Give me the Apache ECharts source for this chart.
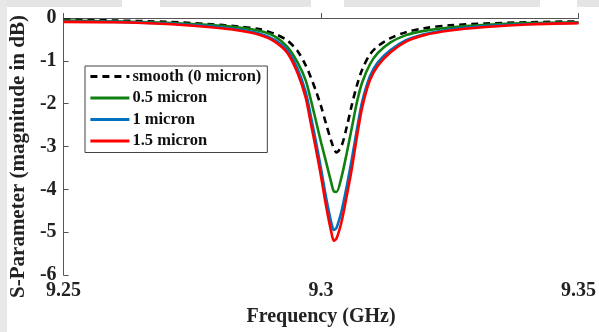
<!DOCTYPE html>
<html>
<head>
<meta charset="utf-8">
<script src="https://cdn.jsdelivr.net/npm/echarts@6/dist/echarts.min.js"></script>
<style>
  html, body { margin: 0; padding: 0; background: #ffffff; }
  #chart { width: 599px; height: 332px; }
</style>
</head>
<body>
<div id="chart"></div>
<script>
// Frequency sweep (GHz)
const freq = [
  9.250, 9.260, 9.270, 9.278, 9.284, 9.288, 9.291, 9.2935, 9.2955, 9.297,
  9.298, 9.299, 9.300, 9.301, 9.302, 9.3025, 9.303, 9.304, 9.305, 9.306,
  9.307, 9.308, 9.3095, 9.311, 9.3135, 9.3165, 9.320, 9.325, 9.332, 9.340, 9.350
];

// S-parameter magnitude (dB) per surface roughness
const smooth0 = [
  -0.04, -0.06, -0.09, -0.14, -0.20, -0.26, -0.37, -0.53, -0.78, -1.10,
  -1.38, -1.70, -2.06, -2.48, -2.88, -3.05, -3.14, -2.98, -2.54, -2.02,
  -1.56, -1.20, -0.85, -0.66, -0.47, -0.33, -0.24, -0.17, -0.13, -0.10, -0.08
];
const rough05 = [
  -0.06, -0.08, -0.11, -0.16, -0.22, -0.30, -0.43, -0.68, -1.05, -1.45,
  -1.90, -2.40, -2.90, -3.37, -3.85, -4.05, -4.06, -3.70, -3.15, -2.55,
  -1.95, -1.50, -1.08, -0.82, -0.57, -0.40, -0.30, -0.22, -0.16, -0.12, -0.10
];
const rough10 = [
  -0.08, -0.09, -0.13, -0.19, -0.27, -0.36, -0.51, -0.76, -1.20, -1.72,
  -2.28, -2.88, -3.52, -4.20, -4.78, -4.95, -4.90, -4.50, -3.92, -3.28,
  -2.58, -1.95, -1.36, -1.04, -0.75, -0.52, -0.38, -0.27, -0.19, -0.14, -0.11
];
const rough15 = [
  -0.09, -0.10, -0.14, -0.21, -0.29, -0.39, -0.55, -0.82, -1.30, -1.85,
  -2.45, -3.05, -3.70, -4.40, -5.00, -5.20, -5.15, -4.75, -4.15, -3.50,
  -2.75, -2.08, -1.45, -1.12, -0.80, -0.55, -0.40, -0.29, -0.21, -0.15, -0.12
];

const seriesNames = ['smooth (0 micron)', '0.5 micron', '1 micron', '1.5 micron'];
const xTicks = { min: 9.25, max: 9.35, step: 0.05 };
const yTicks = { min: -6, max: 0, step: 1 };

const serif = '"Liberation Serif", "Times New Roman", serif';
const axisColor = '#555555';

function pairs(values) {
  return freq.map((f, i) => [f, values[i]]);
}

function lineSeries(name, values, color, type) {
  return {
    name: name,
    type: 'line',
    data: pairs(values),
    smooth: 0.3,
    symbol: 'none',
    lineStyle: { color: color, width: 2.6, type: type || 'solid' },
    itemStyle: { color: color }
  };
}

const chart = echarts.init(document.getElementById('chart'), null, { renderer: 'canvas' });

chart.setOption({
  backgroundColor: '#ffffff',
  animation: false,
  graphic: [
    // light frame strips along the top and left edges
    { type: 'rect', shape: { x: 0, y: 0, width: 122, height: 7 }, style: { fill: '#e4e4e4' }, silent: true },
    { type: 'rect', shape: { x: 160, y: 0, width: 151, height: 7 }, style: { fill: '#e4e4e4' }, silent: true },
    { type: 'rect', shape: { x: 344, y: 0, width: 196, height: 7 }, style: { fill: '#e4e4e4' }, silent: true },
    { type: 'rect', shape: { x: 577, y: 0, width: 22, height: 7 }, style: { fill: '#e4e4e4' }, silent: true },
    { type: 'rect', shape: { x: 0, y: 0, width: 7, height: 332 }, style: { fill: '#e8e8e8' }, silent: true }
  ],
  grid: { left: 61.5, right: 15, top: 18, bottom: 56, containLabel: false },
  legend: {
    orient: 'vertical',
    left: 85,
    top: 66,
    data: seriesNames,
    itemWidth: 39,
    itemHeight: 14,
    itemGap: 4.5,
    padding: [2, 6, 3, 4],
    borderColor: '#444444',
    borderWidth: 1,
    backgroundColor: '#ffffff',
    // line-only keys: hide the marker drawn on each key
    itemStyle: { opacity: 0 },
    lineStyle: { width: 2.8 },
    textStyle: { fontFamily: serif, fontWeight: 'bold', fontSize: 16.5, color: '#111111', padding: [0, 0, 0, -2] }
  },
  xAxis: {
    type: 'value',
    min: xTicks.min,
    max: xTicks.max,
    interval: xTicks.step,
    name: 'Frequency (GHz)',
    nameLocation: 'middle',
    nameGap: 32,
    nameTextStyle: { fontFamily: serif, fontWeight: 'bold', fontSize: 20, color: '#222222' },
    axisLine: { show: true, lineStyle: { color: axisColor, width: 1 } },
    axisTick: { show: true, inside: true, length: 5, lineStyle: { color: axisColor } },
    axisLabel: { fontFamily: serif, fontWeight: 'bold', fontSize: 20, color: '#222222', margin: 6 },
    splitLine: { show: false }
  },
  yAxis: {
    type: 'value',
    min: yTicks.min,
    max: yTicks.max,
    interval: yTicks.step,
    name: 'S-Parameter (magnitude in dB)',
    nameLocation: 'middle',
    nameGap: 34,
    nameTextStyle: { fontFamily: serif, fontWeight: 'bold', fontSize: 21, color: '#222222', padding: [0, 20, 0, 0] },
    axisLine: { show: true, lineStyle: { color: axisColor, width: 1 } },
    axisTick: { show: true, inside: true, length: 5, lineStyle: { color: axisColor } },
    axisLabel: { fontFamily: serif, fontWeight: 'bold', fontSize: 20, color: '#222222', margin: 7 },
    splitLine: { show: false }
  },
  series: [
    lineSeries(seriesNames[0], smooth0, '#000000', [7, 5]),
    lineSeries(seriesNames[1], rough05, '#108010'),
    lineSeries(seriesNames[2], rough10, '#0072bd'),
    lineSeries(seriesNames[3], rough15, '#ff0000')
  ]
});
</script>
</body>
</html>
